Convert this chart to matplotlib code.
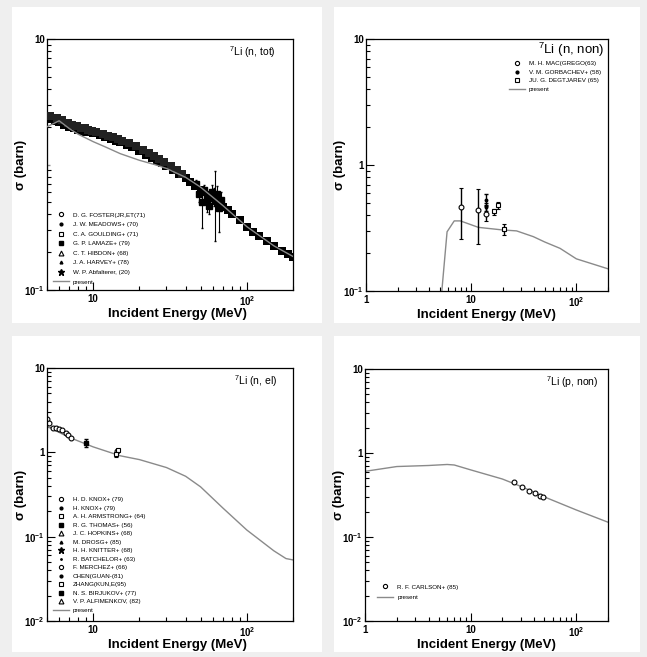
import matplotlib
matplotlib.use("Agg")
import matplotlib.pyplot as plt
import numpy as np
from matplotlib.patches import Rectangle
from matplotlib.lines import Line2D
from matplotlib.ticker import LogLocator, NullFormatter

plt.rcParams['font.family'] = ['Liberation Sans', 'DejaVu Sans']
plt.rcParams['mathtext.fontset'] = 'custom'
plt.rcParams['mathtext.rm'] = 'Liberation Sans'
plt.rcParams['mathtext.it'] = 'Liberation Sans:italic'
plt.rcParams['mathtext.bf'] = 'Liberation Sans:bold'

# ---------------- data ----------------
# 7Li (n, tot)
tot_present_e = [5, 6, 7, 8, 10, 12, 15, 20, 25, 30, 40, 50, 70, 100, 150, 200]
tot_present_s = [2.0, 2.23, 1.93, 1.74, 1.52, 1.38, 1.22, 1.08, 1.00, 0.93, 0.79, 0.66, 0.47, 0.32, 0.225, 0.185]
lamaze_e = [5.0, 5.3, 5.6, 6.0, 6.5, 7.0, 7.5, 8.0, 8.5, 9.0, 9.5, 10, 11, 12, 13, 14, 15, 16.5,
            18, 20, 22, 24, 26, 28, 30, 33, 36, 40, 43, 46, 50, 53, 56, 60, 63, 66, 70, 75, 80,
            90, 100, 110, 120, 135, 150, 170, 185, 200]
lamaze_s = [2.35, 2.3, 2.24, 2.18, 2.08, 2.0, 1.94, 1.90, 1.86, 1.83, 1.80, 1.77, 1.71, 1.65, 1.59,
            1.54, 1.50, 1.43, 1.37, 1.29, 1.20, 1.13, 1.07, 1.02, 0.97, 0.90, 0.84, 0.78, 0.73, 0.68,
            0.63, 0.60, 0.57, 0.54, 0.51, 0.49, 0.46, 0.43, 0.40, 0.36, 0.32, 0.29, 0.27, 0.245,
            0.225, 0.205, 0.192, 0.184]
harvey_e = [5.2, 5.8, 6.3, 6.8, 7.3, 7.8, 8.3, 8.8, 9.3, 9.8, 10.5, 11.5, 12.5, 13.5, 14.5, 15.5,
            17, 19, 21, 23, 25, 27, 29, 32, 35, 38]
harvey_s = [2.45, 2.36, 2.26, 2.16, 2.08, 2.02, 1.97, 1.94, 1.90, 1.86, 1.82, 1.76, 1.70, 1.65, 1.60,
            1.55, 1.48, 1.40, 1.30, 1.23, 1.16, 1.10, 1.05, 0.97, 0.90, 0.84]
abf_e = [47, 49, 51, 53, 55, 57, 59, 61, 62, 64, 66, 68]
abf_s = [0.70, 0.58, 0.50, 0.63, 0.52, 0.47, 0.60, 0.55, 0.52, 0.58, 0.45, 0.52]
abf_dn = [0.05, 0.08, 0.19, 0.06, 0.10, 0.07, 0.09, 0.08, 0.275, 0.10, 0.16, 0.08]
abf_up = [0.05, 0.08, 0.10, 0.06, 0.10, 0.07, 0.09, 0.10, 0.36, 0.10, 0.10, 0.08]
foster_e = [5.02]
foster_s = [1.0]
foster_dn = [0.62]
foster_up = [1.35]

# 7Li (n, non)
non_present_e = [5.17, 5.9, 6.9, 7.9, 11.7, 20, 27, 39, 50, 70, 100, 200]
non_present_s = [0.085, 0.295, 0.36, 0.36, 0.32, 0.305, 0.30, 0.27, 0.245, 0.218, 0.18, 0.15]
mac_e = [7.96, 11.7, 13.9]
mac_s = [0.46, 0.44, 0.41]
mac_dn = [0.20, 0.204, 0.052]
mac_up = [0.20, 0.20, 0.07]
gorb_e = [13.9, 13.9]
gorb_s = [0.53, 0.465]
gorb_err = [0.06, 0.03]
degt_e = [16.6, 18.1, 20.6]
degt_s = [0.43, 0.48, 0.31]
degt_dn = [0.03, 0.03, 0.033]
degt_up = [0.02, 0.03, 0.03]

# 7Li (n, el)
el_present_e = [5, 7, 10, 15, 20, 30, 40, 50, 70, 100, 150, 180, 200]
el_present_s = [2.03, 1.5, 1.16, 0.91, 0.82, 0.66, 0.52, 0.39, 0.218, 0.12, 0.068, 0.055, 0.053]
knox_e = [5.03, 5.17, 5.43, 5.71, 6.0, 6.3, 6.6, 6.86, 7.2]
knox_s = [2.46, 2.21, 1.93, 1.93, 1.9, 1.84, 1.71, 1.6, 1.47]
thomas_e = [8.95]
thomas_s = [1.3]
thomas_err = [0.13]
arm_e = [14.0]
arm_s = [0.95]
arm_err = [0.07]
merchez_e = [14.3]
merchez_s = [1.05]
zhang_e = [14.6]
zhang_s = [1.07]

# 7Li (p, non)
p_present_e = [1, 2, 4, 6, 7, 10, 20, 30, 50, 100, 200]
p_present_s = [0.605, 0.69, 0.71, 0.73, 0.72, 0.63, 0.49, 0.40, 0.30, 0.21, 0.15]
carlson_e = [25.5, 30.8, 35.9, 40.4, 45.7, 48.8]
carlson_s = [0.448, 0.394, 0.353, 0.331, 0.31, 0.30]

# ---------------- layout ----------------
W, H = 647, 657
fig = plt.figure(figsize=(W / 100, H / 100), dpi=100, facecolor='#efefef')


def px_rect(l, t, r, b):
    return [l / W, 1 - b / H, (r - l) / W, (b - t) / H]


for (l, t, r, b) in [(12, 7, 322, 323), (334, 7, 640, 323), (12, 336, 322, 652), (334, 336, 640, 652)]:
    x0, y0, w, h = px_rect(l, t, r, b)
    fig.patches.append(Rectangle((x0, y0), w, h, transform=fig.transFigure,
                                 facecolor='white', edgecolor='none', zorder=-5))

ax1 = fig.add_axes(px_rect(47, 39, 293, 290))
ax2 = fig.add_axes(px_rect(366, 39, 608, 291))
ax3 = fig.add_axes(px_rect(47, 368, 293, 621))
ax4 = fig.add_axes(px_rect(365, 369, 608, 621))


def dec_label(v):
    e = int(round(np.log10(v)))
    if e == 0:
        return '1'
    if e == 1:
        return '10'
    return r'$\mathbf{10^{%d}}$' % e


def style(ax, xlim, ylim, xticks, yticks, xlab_x):
    ax.set_xscale('log')
    ax.set_yscale('log')
    ax.set_xlim(*xlim)
    ax.set_ylim(*ylim)
    ax.set_xticks(xticks, [dec_label(v) for v in xticks], fontsize=7, fontweight='bold')
    ax.set_yticks(yticks, [dec_label(v) for v in yticks], fontsize=7, fontweight='bold')
    ax.xaxis.set_minor_locator(LogLocator(base=10, subs=range(2, 10)))
    ax.yaxis.set_minor_locator(LogLocator(base=10, subs=range(2, 10)))
    ax.xaxis.set_minor_formatter(NullFormatter())
    ax.yaxis.set_minor_formatter(NullFormatter())
    ax.tick_params(which='both', direction='in', top=False, right=False, width=0.8)
    ax.tick_params(which='major', length=5.5)
    ax.tick_params(which='minor', length=3)
    ax.tick_params(axis='x', pad=3)
    ax.tick_params(axis='y', pad=1.5)
    for s in ax.spines.values():
        s.set_linewidth(0.9)
    ax.set_xlabel('Incident Energy (MeV)', fontsize=9.5, fontweight='bold')
    ax.set_ylabel('σ (barn)', fontsize=9.5, fontweight='bold')
    ax.xaxis.set_label_coords(xlab_x, -0.072)
    ax.yaxis.set_label_coords(-0.083, 0.5)


line_kw = dict(color='#8a8a8a', lw=1.0)
leg_kw = dict(frameon=False, borderpad=0, borderaxespad=0, handlelength=2.6,
              handletextpad=0.6, prop={'size': 4.5})

# ---- (n, tot)
style(ax1, (5, 200), (0.1, 10), [10, 100], [0.1, 10], 0.532)
ax1.plot(tot_present_e, tot_present_s, zorder=4, **line_kw)
ax1.plot(lamaze_e, lamaze_s, 's', color='black', ms=6, mew=0, zorder=3)
ax1.plot(harvey_e, harvey_s, 's', color='#222222', ms=5.5, mew=0, zorder=3)
ax1.errorbar(abf_e, abf_s, yerr=[abf_dn, abf_up], fmt='s', color='black', ms=4,
             elinewidth=0.8, capsize=1, zorder=3)
ax1.errorbar(foster_e, foster_s, yerr=[foster_dn, foster_up], fmt='_', color='#909090', ms=4,
             elinewidth=1.5, zorder=2)
ax1.text(0.93, 0.948, r'$^{7}$Li (n, tot)', transform=ax1.transAxes, ha='right', va='center', fontsize=7.5)
h1 = [Line2D([], [], ls='none', marker='o', mfc='none', mec='black', ms=3, mew=0.8),
      Line2D([], [], ls='none', marker='o', color='black', ms=2),
      Line2D([], [], ls='none', marker='s', mfc='none', mec='black', ms=3, mew=0.8),
      Line2D([], [], ls='none', marker='s', color='black', ms=3.5),
      Line2D([], [], ls='none', marker='^', mfc='none', mec='black', ms=3.5, mew=0.8),
      Line2D([], [], ls='none', marker='^', color='black', ms=2),
      Line2D([], [], ls='none', marker='*', color='black', ms=4.5),
      Line2D([], [], **line_kw)]
l1 = ['D. G. FOSTER(JR,ET(71)', 'J. W. MEADOWS+ (70)', 'C. A. GOULDING+ (71)', 'G. P. LAMAZE+ (79)',
      'C. T. HIBDON+ (68)', 'J. A. HARVEY+ (78)', 'W. P. Abfalterer, (20)', 'present']
ax1.legend(h1, l1, loc='upper left', bbox_to_anchor=(0.023, 0.31), labelspacing=0.67, **leg_kw)

# ---- (n, non)
style(ax2, (1, 200), (0.1, 10), [1, 10, 100], [0.1, 1, 10], 0.498)
ax2.plot(non_present_e, non_present_s, **line_kw)
ax2.errorbar(mac_e, mac_s, yerr=[mac_dn, mac_up], fmt='o', mfc='white', mec='black', ecolor='black',
             ms=3.5, mew=0.8, elinewidth=1, capsize=1.5)
ax2.errorbar(gorb_e, gorb_s, yerr=gorb_err, fmt='o', color='black', ms=1.8, elinewidth=1, capsize=1.5)
ax2.errorbar(degt_e, degt_s, yerr=[degt_dn, degt_up], fmt='s', mfc='white', mec='black', ecolor='black',
             ms=3.5, mew=0.8, elinewidth=1, capsize=1.5)
ax2.text(0.985, 0.955, r'$^{7}$Li (n, non)', transform=ax2.transAxes, ha='right', va='center', fontsize=9.5)
h2 = [Line2D([], [], ls='none', marker='o', mfc='none', mec='black', ms=3, mew=0.8),
      Line2D([], [], ls='none', marker='o', color='black', ms=2),
      Line2D([], [], ls='none', marker='s', mfc='none', mec='black', ms=3, mew=0.8),
      Line2D([], [], **line_kw)]
l2 = ['M. H. MAC(GREGO(63)', 'V. M. GORBACHEV+ (58)', 'JU. G. DEGTJAREV (65)', 'present']
ax2.legend(h2, l2, loc='upper left', bbox_to_anchor=(0.59, 0.913), labelspacing=0.5, **leg_kw)

# ---- (n, el)
style(ax3, (5, 200), (0.01, 10), [10, 100], [0.01, 0.1, 1, 10], 0.532)
ax3.plot(el_present_e, el_present_s, **line_kw)
ax3.plot(knox_e, knox_s, 'o', mfc='white', mec='black', ms=3.5, mew=0.8)
ax3.errorbar(thomas_e, thomas_s, yerr=thomas_err, fmt='s', color='black', ms=3.5, elinewidth=1, capsize=1.5)
ax3.errorbar(arm_e, arm_s, yerr=arm_err, fmt='s', mfc='white', mec='black', ecolor='black',
             ms=3.5, mew=0.8, elinewidth=1, capsize=1.5)
ax3.plot(merchez_e, merchez_s, 'o', mfc='white', mec='black', ms=3.5, mew=0.8)
ax3.plot(zhang_e, zhang_s, 's', mfc='white', mec='black', ms=3.5, mew=0.8)
ax3.text(0.935, 0.948, r'$^{7}$Li (n, el)', transform=ax3.transAxes, ha='right', va='center', fontsize=7.5)
h3 = [Line2D([], [], ls='none', marker='o', mfc='none', mec='black', ms=3, mew=0.8),
      Line2D([], [], ls='none', marker='o', color='black', ms=2),
      Line2D([], [], ls='none', marker='s', mfc='none', mec='black', ms=3.5, mew=0.8),
      Line2D([], [], ls='none', marker='s', color='black', ms=3.5),
      Line2D([], [], ls='none', marker='^', mfc='none', mec='black', ms=3.5, mew=0.8),
      Line2D([], [], ls='none', marker='^', color='black', ms=2),
      Line2D([], [], ls='none', marker='*', color='black', ms=4.5),
      Line2D([], [], ls='none', marker='o', color='black', ms=1),
      Line2D([], [], ls='none', marker='o', mfc='none', mec='black', ms=3, mew=0.8),
      Line2D([], [], ls='none', marker='o', color='black', ms=2),
      Line2D([], [], ls='none', marker='s', mfc='none', mec='black', ms=3.5, mew=0.8),
      Line2D([], [], ls='none', marker='s', color='black', ms=3.5),
      Line2D([], [], ls='none', marker='^', mfc='none', mec='black', ms=3.5, mew=0.8),
      Line2D([], [], **line_kw)]
l3 = ['H. D. KNOX+ (79)', 'H. KNOX+ (79)', 'A. H. ARMSTRONG+ (64)', 'R. G. THOMAS+ (56)',
      'J. C. HOPKINS+ (68)', 'M. DROSG+ (85)', 'H. H. KNITTER+ (68)', 'R. BATCHELOR+ (63)',
      'F. MERCHEZ+ (66)', 'CHEN(GUAN-(81)', 'ZHANG(KUN,E(95)', 'N. S. BIRJUKOV+ (77)',
      'V. P. ALFIMENKOV, (82)', 'present']
ax3.legend(h3, l3, loc='upper left', bbox_to_anchor=(0.023, 0.49), labelspacing=0.5, **leg_kw)

# ---- (p, non)
style(ax4, (1, 200), (0.01, 10), [1, 10, 100], [0.01, 0.1, 1, 10], 0.5)
ax4.plot(p_present_e, p_present_s, **line_kw)
ax4.plot(carlson_e, carlson_s, 'o', mfc='white', mec='black', ms=3.5, mew=0.8)
ax4.text(0.96, 0.948, r'$^{7}$Li (p, non)', transform=ax4.transAxes, ha='right', va='center', fontsize=7.5)
h4 = [Line2D([], [], ls='none', marker='o', mfc='none', mec='black', ms=3, mew=0.8),
      Line2D([], [], **line_kw)]
l4 = ['R. F. CARLSON+ (85)', 'present']
ax4.legend(h4, l4, loc='upper left', bbox_to_anchor=(0.05, 0.146), labelspacing=0.8, **leg_kw)

fig.savefig('out.png', dpi=100, facecolor=fig.get_facecolor())
